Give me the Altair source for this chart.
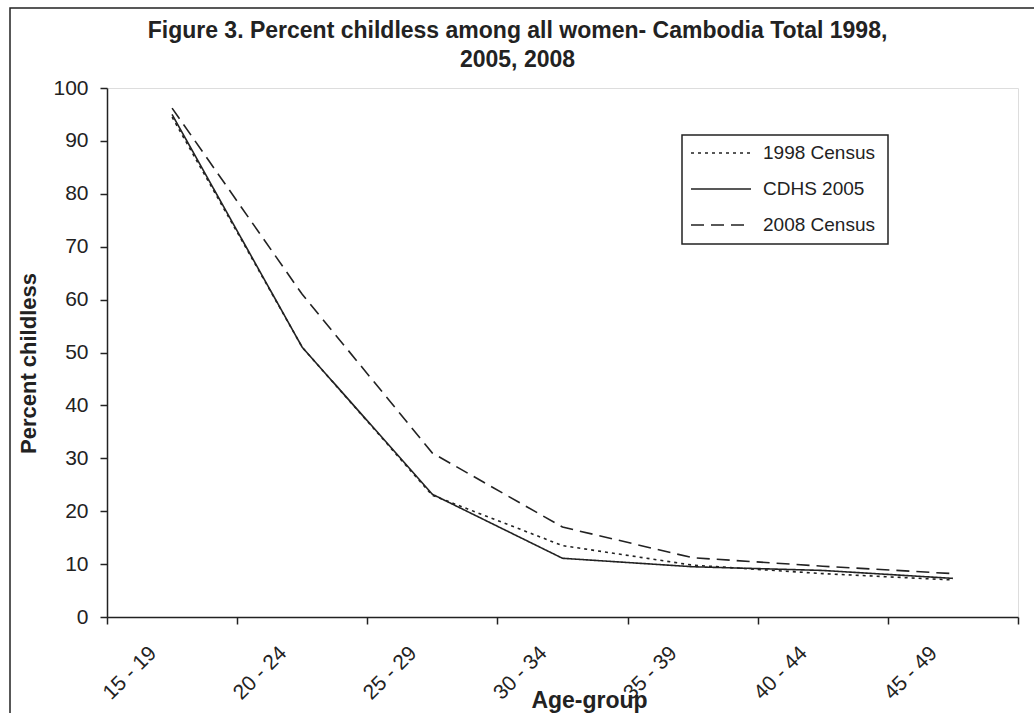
import json
import altair as alt
import pandas as pd

age_groups = ["15 - 19", "20 - 24", "25 - 29", "30 - 34", "35 - 39", "40 - 44", "45 - 49"]
series_names = ["1998 Census", "CDHS 2005", "2008 Census"]
census_1998 = [94.5, 51.0, 23.0, 13.5, 9.8, 8.2, 7.0]
cdhs_2005 = [95.0, 51.0, 23.2, 11.1, 9.5, 8.8, 7.3]
census_2008 = [96.2, 61.0, 31.0, 17.0, 11.2, 9.6, 8.2]
y_ticks = list(range(0, 101, 10))

rows = []
for name, vals in zip(series_names, [census_1998, cdhs_2005, census_2008]):
    for i, (g, v) in enumerate(zip(age_groups, vals)):
        rows.append({"series": name, "age": g, "pos": i + 0.5, "value": v})
df = pd.DataFrame(rows)

FONT = "Liberation Sans"
INK = "#222222"
W, H = 911, 529
PAD_L, PAD_T = 107, 88

label_expr = json.dumps(age_groups) + "[datum.value] || ''"

lines = alt.Chart(df).mark_line(strokeWidth=1.6, color=INK).encode(
    x=alt.X("pos:Q",
            scale=alt.Scale(domain=[0, len(age_groups)], nice=False, zero=False),
            axis=alt.Axis(values=list(range(0, len(age_groups) + 1)),
                          labelExpr=label_expr,
                          labelAngle=-45, labelAlign="right", labelBaseline="top",
                          labelOffset=38,
                          labelFont=FONT, labelFontSize=21, labelColor=INK,
                          labelPadding=18, labelOverlap=False,
                          tickSize=7, tickColor=INK, domainColor=INK, domainWidth=1.5,
                          tickWidth=1.5, grid=False,
                          title="Age-group", titleFont=FONT, titleFontSize=23,
                          titleFontWeight="bold", titleColor=INK,
                          titleX=482, titleY=90, titleBaseline="alphabetic",
                          titleAlign="center")),
    y=alt.Y("value:Q",
            scale=alt.Scale(domain=[0, 100], nice=False),
            axis=alt.Axis(values=y_ticks, labelFont=FONT, labelFontSize=21,
                          labelColor=INK, labelPadding=12, tickSize=7,
                          tickColor=INK, tickWidth=1.5, domainColor=INK,
                          domainWidth=1.5, grid=False,
                          title="Percent childless", titleFont=FONT,
                          titleFontSize=22, titleFontWeight="bold",
                          titleColor=INK, titleX=-79, titleY=275,
                          titleBaseline="middle", titleAlign="center",
                          titleAngle=270)),
    strokeDash=alt.StrokeDash("series:N",
                              scale=alt.Scale(domain=series_names,
                                              range=[[3, 4], [1, 0], [13, 7]]),
                              sort=series_names,
                              legend=alt.Legend(title=None, orient="none",
                                                legendX=588, legendY=39,
                                                padding=0,
                                                symbolType="M-1.2,0H1.2",
                                                symbolSize=2500,
                                                symbolStrokeWidth=1.6,
                                                symbolStrokeColor=INK,
                                                symbolFillColor="transparent",
                                                labelFont=FONT, labelFontSize=19,
                                                labelColor=INK, labelOffset=16,
                                                rowPadding=0)),
    detail="series:N",
)

frame = alt.Chart(pd.DataFrame({"f": [0]})).mark_rect(
    fill="transparent", stroke=INK, strokeWidth=1.5
).encode(
    x=alt.value(10 - PAD_L), x2=alt.value(1060 - PAD_L),
    y=alt.value(8 - PAD_T), y2=alt.value(760 - PAD_T),
)

legend_box = alt.Chart(pd.DataFrame({"f": [0]})).mark_rect(
    fill="transparent", stroke=INK, strokeWidth=1.5
).encode(
    x=alt.value(682 - PAD_L), x2=alt.value(888 - PAD_L),
    y=alt.value(135 - PAD_T), y2=alt.value(244 - PAD_T),
)

chart = alt.layer(frame, legend_box, lines).properties(
    width=W, height=H,
    title=alt.TitleParams(
        ["Figure 3. Percent childless among all women- Cambodia Total 1998,", "2005, 2008"],
        font=FONT, fontSize=23, fontWeight="bold", color=INK,
        anchor="middle", frame="group", dx=-45, offset=-83,
        baseline="alphabetic", lineHeight=29),
    autosize=alt.AutoSizeParams(type="none"),
    padding={"left": PAD_L, "top": PAD_T, "right": 1034 - PAD_L - W, "bottom": 713 - PAD_T - H},
).configure_view(stroke=INK, strokeWidth=1.5).configure(background="white")

chart.save("out.html", embed_options={"renderer": "svg", "actions": False})
